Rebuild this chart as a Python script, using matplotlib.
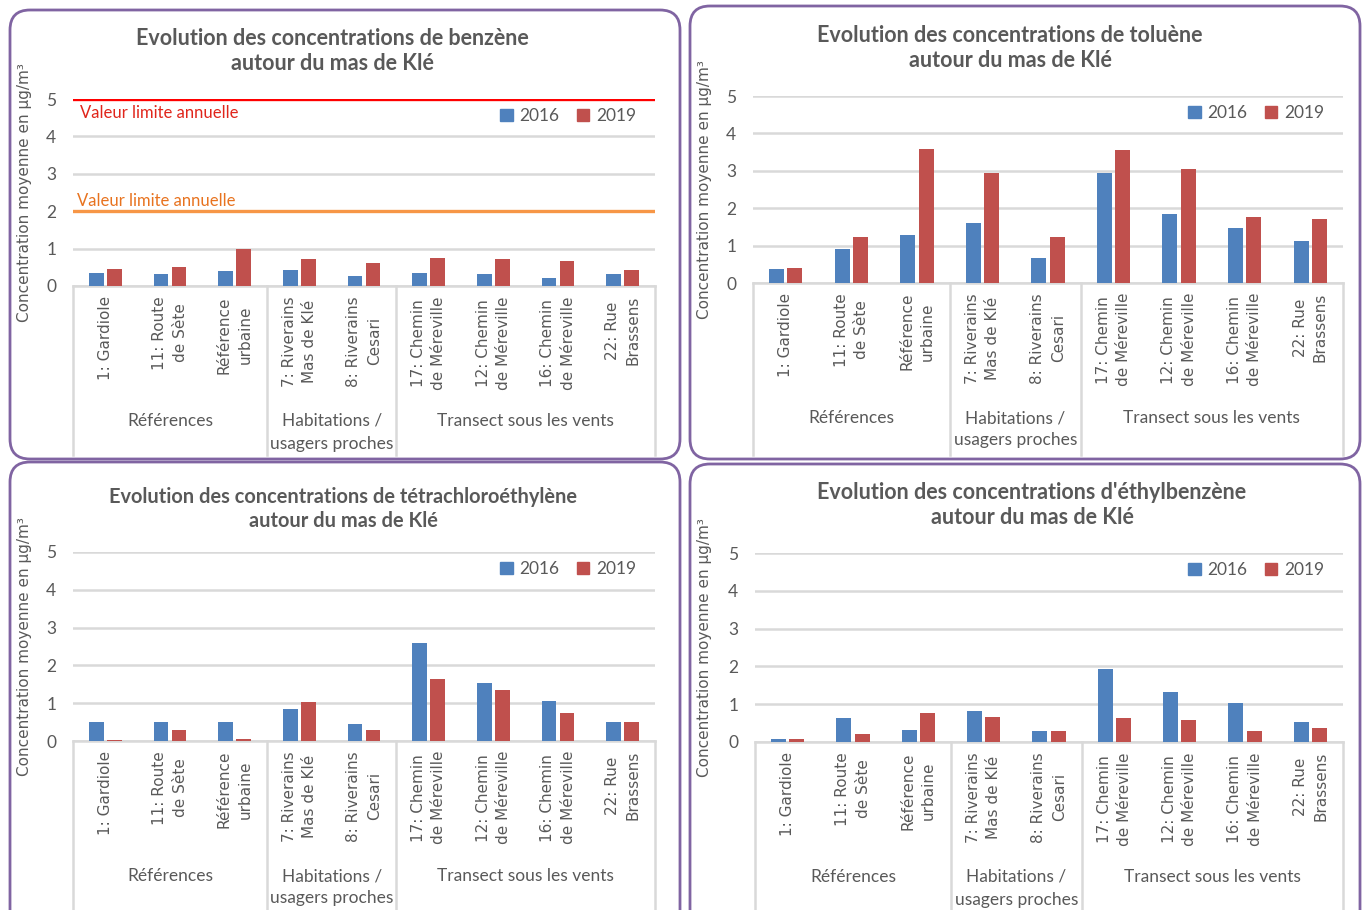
import matplotlib
matplotlib.use("Agg")
import matplotlib.pyplot as plt
import numpy as np
from matplotlib.patches import FancyBboxPatch, Patch

W, H = 1362, 910

sites = ["1: Gardiole", "11: Route\nde Sète", "Référence\nurbaine",
         "7: Riverains\nMas de Klé", "8: Riverains\nCesari",
         "17: Chemin\nde Méreville", "12: Chemin\nde Méreville",
         "16: Chemin\nde Méreville", "22: Rue\nBrassens"]
groups = ["Références", "Habitations /\nusagers proches", "Transect sous les vents"]
group_sizes = [3, 2, 4]
years = ["2016", "2019"]

titles = ["Evolution des concentrations de benzène\nautour du mas de Klé",
          "Evolution des concentrations de toluène\nautour du mas de Klé",
          "Evolution des concentrations de tétrachloroéthylène\nautour du mas de Klé",
          "Evolution des concentrations d'éthylbenzène\nautour du mas de Klé"]

benzene_2016 = [0.36, 0.31, 0.40, 0.42, 0.28, 0.36, 0.31, 0.22, 0.31]
benzene_2019 = [0.46, 0.51, 0.99, 0.71, 0.62, 0.74, 0.71, 0.68, 0.42]
toluene_2016 = [0.37, 0.91, 1.29, 1.61, 0.68, 2.94, 1.84, 1.46, 1.13]
toluene_2019 = [0.40, 1.24, 3.58, 2.94, 1.24, 3.55, 3.05, 1.77, 1.72]
tetra_2016 = [0.49, 0.49, 0.49, 0.85, 0.45, 2.60, 1.53, 1.05, 0.49]
tetra_2019 = [0.03, 0.28, 0.06, 1.03, 0.28, 1.64, 1.36, 0.74, 0.51]
ethyl_2016 = [0.07, 0.64, 0.33, 0.81, 0.28, 1.94, 1.32, 1.02, 0.53]
ethyl_2019 = [0.07, 0.22, 0.77, 0.67, 0.28, 0.64, 0.59, 0.30, 0.37]

series = [(benzene_2016, benzene_2019), (toluene_2016, toluene_2019),
          (tetra_2016, tetra_2019), (ethyl_2016, ethyl_2019)]

# benzene only: annual limit values
benzene_limits = [5, 2]
limit_labels = ["Valeur limite annuelle", "Valeur limite annuelle"]
limit_line_colors = ["#FF0000", "#F79646"]
limit_text_colors = ["#E0251B", "#E8731F"]

BLUE, RED = "#4F81BD", "#C0504D"
GRID = "#D9D9D9"
TXT = "#595959"
BORDER = "#8064A2"
TITLE_FONT = ["Lato", "DejaVu Sans"]
TICK_FONT = ["DejaVu Sans"]

# layout in pixels: box (x0, y0, x1, y1), plot (x0, ytop, x1, ybottom), title centre (x, y)
layout = [
    dict(box=(10, 10, 680, 459), plot=(73, 99, 655, 286), title=(332, 51), tsize=15.5),
    dict(box=(690, 6, 1360, 459), plot=(753, 96, 1343, 283), title=(1010, 48), tsize=15.5),
    dict(box=(10, 462, 680, 940), plot=(73, 552, 655, 741), title=(343, 509), tsize=14.4),
    dict(box=(690, 464, 1360, 940), plot=(755, 553, 1343, 742), title=(1032, 505), tsize=15.5),
]

fig = plt.figure(figsize=(W / 100, H / 100), dpi=100)
bg = fig.add_axes([0, 0, 1, 1])
bg.set_xlim(0, W)
bg.set_ylim(H, 0)
bg.axis("off")

x = np.arange(len(sites))
bw, off = 0.23, 0.14

for k, (lay, (v16, v19), title) in enumerate(zip(layout, series, titles)):
    bx0, by0, bx1, by1 = lay["box"]
    bg.add_patch(FancyBboxPatch((bx0, by0), bx1 - bx0, by1 - by0,
                                boxstyle="round,pad=0,rounding_size=20",
                                fc="white", ec=BORDER, lw=2))
    bg.text(*lay["title"], title, ha="center", va="center", fontsize=lay["tsize"],
            fontweight="bold", color=TXT, family=TITLE_FONT, linespacing=1.25)

    px0, py5, px1, py0 = lay["plot"]
    ax = fig.add_axes([px0 / W, 1 - py0 / H, (px1 - px0) / W, (py0 - py5) / H])
    ax.set_facecolor("none")
    ax.bar(x - off, v16, bw, color=BLUE, zorder=3, label=years[0])
    ax.bar(x + off, v19, bw, color=RED, zorder=3, label=years[1])
    ax.set_xlim(-0.5, len(sites) - 0.5)
    ax.set_ylim(0, 5)
    ax.set_yticks(range(6))
    ax.yaxis.grid(True, color=GRID, lw=1.8, zorder=0)
    ax.set_axisbelow(True)
    for s in ["left", "right", "top"]:
        ax.spines[s].set_visible(False)
    ax.spines["bottom"].set_color(GRID)
    ax.spines["bottom"].set_linewidth(1.8)
    ax.set_xticks([])
    ax.tick_params(axis="y", length=0, pad=12, labelsize=12.5, labelcolor=TXT)
    for t in ax.get_yticklabels():
        t.set_family(TITLE_FONT)

    bg.text(bx0 + 15, (py5 + py0) / 2, "Concentration moyenne en µg/m³", rotation=90,
            ha="center", va="center", fontsize=11, color=TXT, family=TICK_FONT)

    xt = ax.get_xaxis_transform()
    for i, lab in enumerate(sites):
        ax.annotate(lab, xy=(i, 0), xycoords=xt, xytext=(0, -10),
                    textcoords="offset pixels", rotation=90, ha="center", va="top",
                    multialignment="center", fontsize=11, color=TXT,
                    family=TICK_FONT, linespacing=1.45, annotation_clip=False)

    # multi-level category axis: group separators and labels
    depth = (by1 - 4 - py0) / (py0 - py5)
    edges = np.concatenate([[0], np.cumsum(group_sizes)]) - 0.5
    for e in edges:
        ax.plot([e, e], [0, -depth], transform=xt, color=GRID, lw=1.8, clip_on=False)
    for g, (a, b) in zip(groups, zip(edges[:-1], edges[1:])):
        ax.annotate(g, xy=((a + b) / 2, 0), xycoords=xt, xytext=(0, -127),
                    textcoords="offset pixels", ha="center", va="top",
                    fontsize=12.5, color=TXT, family=TITLE_FONT, linespacing=1.5,
                    annotation_clip=False)

    if k == 0:
        for val, lab, lc, tc, dx, dy, va in zip(benzene_limits, limit_labels,
                                                  limit_line_colors, limit_text_colors,
                                                  [7, 4], [-6, 2], ["top", "bottom"]):
            ax.axhline(val, color=lc, lw=2.4, zorder=2)
            ax.annotate(lab, xy=(-0.5, val), xytext=(dx, dy),
                        textcoords="offset pixels", ha="left", va=va,
                        fontsize=12, color=tc, family=TITLE_FONT)

    handles = [Patch(color=BLUE, label=years[0]), Patch(color=RED, label=years[1])]
    leg = ax.legend(handles=handles, loc="upper right",
                    bbox_to_anchor=(1 - 12 / (px1 - px0), 1 - 2 / (py0 - py5)),
                    borderaxespad=0, ncol=2, frameon=False, handlelength=0.7,
                    handleheight=0.7, handletextpad=0.4, columnspacing=1.0,
                    prop=dict(family=TITLE_FONT, size=12.5))
    for t in leg.get_texts():
        t.set_color(TXT)

fig.savefig("out.png", dpi=100)
